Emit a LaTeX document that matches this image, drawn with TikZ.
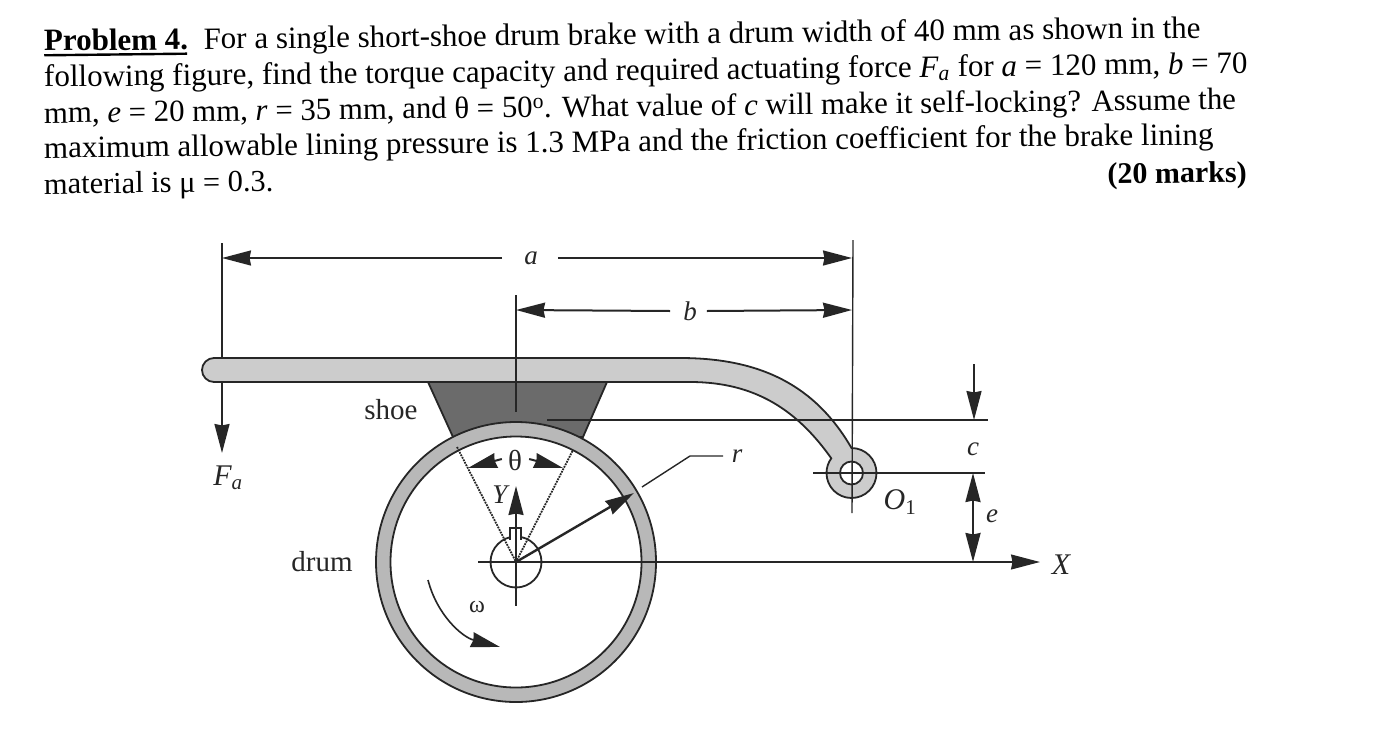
\documentclass[tikz,border=0pt]{standalone}
\usepackage{fontspec}
\setmainfont{Liberation Serif}
\usetikzlibrary{arrows.meta}
\tikzset{
    textline/.style={anchor=base west,inner sep=0pt,rotate=0.65,font=\fontsize{31}{31}\selectfont},
    figlabel/.style={inner sep=0pt,font=\fontsize{29}{29}\selectfont,black!85},
    dimlabel/.style={inner sep=0pt,font=\fontsize{27}{27}\selectfont\itshape,black!85},
    caplabel/.style={inner sep=0pt,font=\fontsize{30}{30}\selectfont\itshape,black!85},
    dimline/.style={line width=1.4pt,black!85},
    tipline/.style={line width=2pt,black!85,-{Stealth[length=29pt,width=15pt,inset=1.5pt]}},
    tiptwo/.style={line width=2.2pt,black!85,{Stealth[length=29pt,width=15pt,inset=1.5pt]}-{Stealth[length=29pt,width=15pt,inset=1.5pt]}},
    partline/.style={line width=1.8pt,black!85},
}
\definecolor{levergray}{gray}{0.8}
\definecolor{shoegray}{gray}{0.42}
\definecolor{ringgray}{gray}{0.72}
\begin{document}
\begin{tikzpicture}[x=1pt,yscale=-1,y=1pt]
    \useasboundingbox (0,0) rectangle (1389,747);
    % Text
    \node[textline] (lineone) at (44,51) {\rlap{\rule[-5.5pt]{143pt}{2.4pt}}\textbf{Problem 4.}\ \ For a single short-shoe drum brake with a drum width of 40 mm as shown in the};
    \node[textline] (linetwo) at (44,87) {following figure, find the torque capacity and required actuating force \textit{F}\textsubscript{\textit{a}} for \textit{a} = 120 mm, \textit{b} = 70};
    \node[textline,font=\fontsize{30.8}{31}\selectfont] (linethree) at (44,123) {mm, \textit{e} = 20 mm, \textit{r} = 35 mm, and θ = 50\textsuperscript{o}. What value of \textit{c} will make it self-locking? Assume the};
    \node[textline] (linefour) at (44,158) {maximum allowable lining pressure is 1.3 MPa and the friction coefficient for the brake lining};
    \node[textline,font=\fontsize{30.4}{31}\selectfont] (linefive) at (44,194) {material is μ = 0.3.};
    \node[textline,anchor=base east,font=\fontsize{30}{30}\selectfont] (marks) at (1247,182) {\textbf{(20 marks)}};

    \coordinate (center) at (516,562);
    \coordinate (pivot) at (851.5,473);

    % Lever
    \filldraw[partline,fill=levergray] (214,382) arc[start angle=90,end angle=270,radius=12] -- (680,358)
        .. controls (760,358) and (815,385) .. (851.5,448)
        arc[start angle=270,end angle=576,radius=25]
        .. controls (797,410) and (755,382) .. (690,382) -- cycle;
    \filldraw[partline,fill=white] (pivot) circle (11.5);

    % Shoe
    \filldraw[partline,fill=shoegray] (428,382) -- (607,382) -- (583,437) -- (453,437) -- cycle;

    % Drum
    \filldraw[partline,fill=ringgray] (center) circle (140);
    \filldraw[partline,fill=white] (center) circle (125.5);
    \draw[partline] (center) circle (25.5);
    \filldraw[partline,fill=white] (510,540) -- (510,528) -- (521,528) -- (521,540);

    % Labels
    \node[dimlabel] (alabel) at (531,258) {a};
    \node[dimlabel] (blabel) at (690,311) {b};
    \node[dimlabel] (clabel) at (973,449) {c};
    \node[dimlabel] (elabel) at (992,516) {e};
    \node[dimlabel] (rlabel) at (737,456) {r};
    \node[caplabel] (xlabel) at (1061,565) {X};
    \node[caplabel,font=\fontsize{27}{27}\selectfont\itshape] (ylabel) at (500,495) {Y};
    \node[caplabel] (falabel) at (228,478) {F\textsubscript{a}};
    \node[caplabel] (ooone) at (900,502) {O\textsubscript{\upshape 1}};
    \node[figlabel] (shoelabel) at (391,410) {shoe};
    \node[figlabel] (drumlabel) at (322,562) {drum};
    \node[figlabel] (thetalabel) at (515,460) {θ};
    \node[figlabel,font=\fontsize{24}{24}\selectfont] (omegalabel) at (477,607) {ω};

    % Dimensions
    \coordinate (atop) at (222,243);
    \coordinate (aright) at (853,240);
    \coordinate (btop) at (516,295);
    \draw[dimline] (atop) -- (222,358); % left end
    \draw[dimline] (aright) -- (852,513); % right end
    \draw[dimline] (btop) -- (516,412); % shoe line
    \draw[tipline] (alabel.west) ++(-22,0) -- (222,258);
    \draw[tipline] (alabel.east) ++(20,0) -- (852,258);
    \draw[tipline] (blabel.west) ++(-13,0) -- (516,310);
    \draw[tipline] (blabel.east) ++(10,0) -- (852,310);
    \draw[dimline] (547,420) -- (988,420); % c line
    \draw[dimline] (813,473) -- (985,473); % pivot line
    \draw[tipline] (974,364) -- (974,420);
    \draw[tiptwo] (973,473) -- (973,562);
    \draw[dimline,-{Stealth[length=29pt,width=15pt,inset=1.5pt]}] (478,562) -- (1040,562); % x axis
    \draw[dimline] (516,540) -- (516,606); % y axis
    \draw[tipline] (center) -- (516,486);
    \draw[tipline] (thetalabel.west) ++(-6,-1) -- (468,468);
    \draw[tipline] (thetalabel.east) ++(7,-1) -- (563,468);
    \draw[densely dotted,line width=1.8pt,black!85] (457,447) -- (center) -- (573,450);
    \draw[tipline,line width=2.4pt] (center) -- (634,493);
    \draw[dimline] (642,487) -- (690,456) -- (723,456); % r leader
    \draw[tipline,line width=1.6pt] (428,580) .. controls (437,615) and (462,637) .. (500,647); % rotation
    \draw[tipline] (222,382) -- (222,453); % actuating force
\end{tikzpicture}
\end{document}
